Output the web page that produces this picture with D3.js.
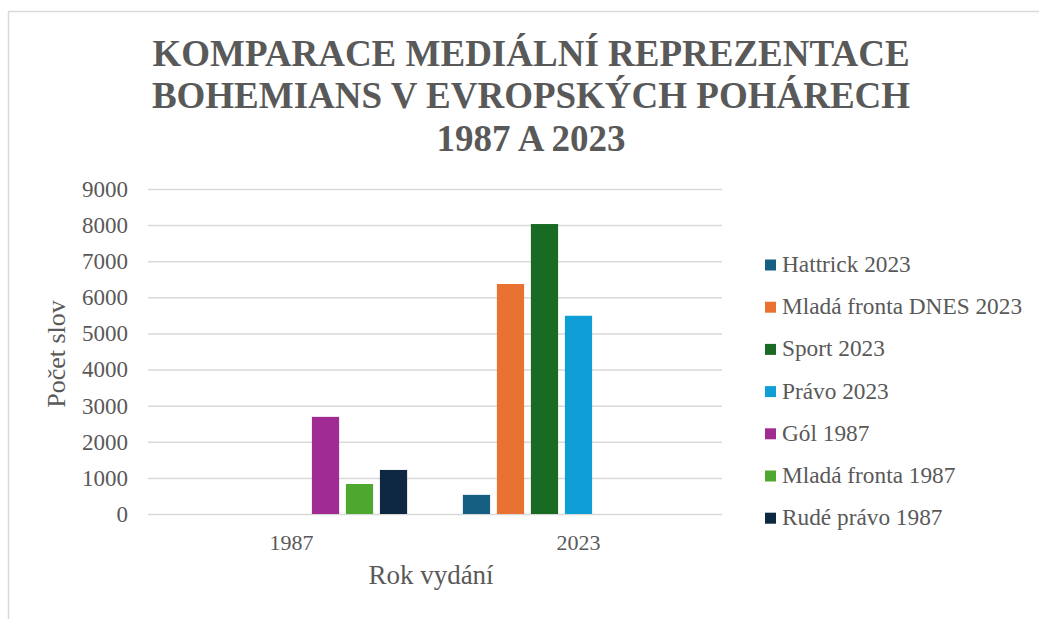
<!DOCTYPE html>
<html>
<head>
<meta charset="utf-8">
<script src="https://cdn.jsdelivr.net/npm/d3@7"></script>
<style>
  html, body { margin: 0; padding: 0; background: #fff; }
</style>
</head>
<body>
<script>
(function() {
  'use strict';

  // data
  const years = ['1987', '2023'];
  const seriesNames = [
    'Hattrick 2023', 'Mladá fronta DNES 2023', 'Sport 2023', 'Právo 2023',
    'Gól 1987', 'Mladá fronta 1987', 'Rudé právo 1987'
  ];
  const seriesColors = ['#156082', '#e97132', '#196b24', '#0f9ed5', '#a02b93', '#4ea72e', '#0e2841'];
  const values1987 = [null, null, null, null, 2690, 830, 1220];
  const values2023 = [530, 6370, 8030, 5490, null, null, null];
  const yTicks = [0, 1000, 2000, 3000, 4000, 5000, 6000, 7000, 8000, 9000];
  const titleLines = ['KOMPARACE MEDIÁLNÍ REPREZENTACE', 'BOHEMIANS V EVROPSKÝCH POHÁRECH', '1987 A 2023'];

  const FONT = "'Times New Roman', Tinos, serif";
  const textColor = '#595959';
  const w = 1039;
  const h = 619;
  const plot = {left: 148, right: 722, top: 189, bottom: 514};

  const svg = d3.select('body').append('svg')
    .attr('width', w)
    .attr('height', h)
    .style('font-family', FONT);

  // chart area border (only top and left edges show)
  svg.append('rect')
    .attr('x', 8.5).attr('y', 11.5)
    .attr('width', 1060).attr('height', 640)
    .attr('fill', 'none')
    .attr('stroke', '#d9d9d9')
    .attr('stroke-width', 1.5);

  // title
  svg.append('text')
    .attr('x', 531)
    .attr('y', 66)
    .attr('text-anchor', 'middle')
    .style('font-family', FONT)
    .attr('font-size', 37)
    .attr('font-weight', 'bold')
    .attr('fill', textColor)
    .selectAll('tspan')
    .data(titleLines)
    .enter()
    .append('tspan')
    .attr('x', 531)
    .attr('dy', (d, i) => i === 0 ? 0 : 42.3)
    .text((d) => d);

  const table = years.map((yr, i) => ({
    year: yr,
    values: seriesNames.map((name, j) => ({
      name: name,
      color: seriesColors[j],
      value: i === 0 ? values1987[j] : values2023[j]
    }))
  }));

  const x0 = d3.scaleBand()
    .domain(years)
    .range([plot.left, plot.right]);
  const x1 = d3.scaleBand()
    .domain(seriesNames)
    .range([0, x0.bandwidth()])
    .paddingInner(0.2)
    .paddingOuter(0.82);
  const y = d3.scaleLinear()
    .domain([0, 9000])
    .range([plot.bottom, plot.top]);

  // gridlines + y labels
  const yAxis = d3.axisLeft(y)
    .tickValues(yTicks)
    .tickSize(-(plot.right - plot.left))
    .tickPadding(20)
    .tickFormat(d3.format('d'));
  const gy = svg.append('g')
    .attr('transform', 'translate(' + plot.left + ',0)')
    .call(yAxis)
    .attr('font-size', 23);
  gy.attr('font-family', null).style('font-family', FONT);
  gy.select('.domain').remove();
  gy.selectAll('line').attr('stroke', '#d9d9d9').attr('stroke-width', 1.5);
  gy.selectAll('text').attr('fill', textColor);

  // bars
  const groups = svg.selectAll('g.year')
    .data(table)
    .enter()
    .append('g')
    .attr('class', 'year')
    .attr('transform', (d) => 'translate(' + x0(d.year) + ',0)');
  groups.selectAll('rect')
    .data((d) => d.values.filter((v) => v.value !== null))
    .enter()
    .append('rect')
    .attr('x', (d) => x1(d.name))
    .attr('y', (d) => y(d.value))
    .attr('width', x1.bandwidth())
    .attr('height', (d) => y(0) - y(d.value))
    .attr('fill', (d) => d.color);

  // x labels
  const xAxis = d3.axisBottom(x0).tickSize(0).tickPadding(20);
  const gx = svg.append('g')
    .attr('transform', 'translate(0,' + plot.bottom + ')')
    .call(xAxis)
    .attr('font-size', 22);
  gx.attr('font-family', null).style('font-family', FONT);
  gx.select('.domain').remove();
  gx.selectAll('text').attr('fill', textColor);

  // axis titles
  svg.append('text')
    .attr('x', 431)
    .attr('y', 584)
    .attr('text-anchor', 'middle')
    .style('font-family', FONT)
    .attr('font-size', 27)
    .attr('fill', textColor)
    .text('Rok vydání');
  svg.append('text')
    .attr('transform', 'translate(65,354) rotate(-90)')
    .attr('text-anchor', 'middle')
    .style('font-family', FONT)
    .attr('font-size', 26)
    .attr('fill', textColor)
    .text('Počet slov');

  // legend
  const legend = svg.selectAll('g.legend')
    .data(seriesNames)
    .enter()
    .append('g')
    .attr('class', 'legend')
    .attr('transform', (d, i) => 'translate(765,' + (265 + i * 42.2) + ')');
  legend.append('rect')
    .attr('x', 0)
    .attr('y', -5.5)
    .attr('width', 11)
    .attr('height', 11)
    .attr('fill', (d, i) => seriesColors[i]);
  legend.append('text')
    .attr('x', 17)
    .attr('y', 7)
    .style('font-family', FONT)
    .attr('font-size', 23.3)
    .attr('fill', textColor)
    .text((d) => d);
}());
</script>
</body>
</html>
